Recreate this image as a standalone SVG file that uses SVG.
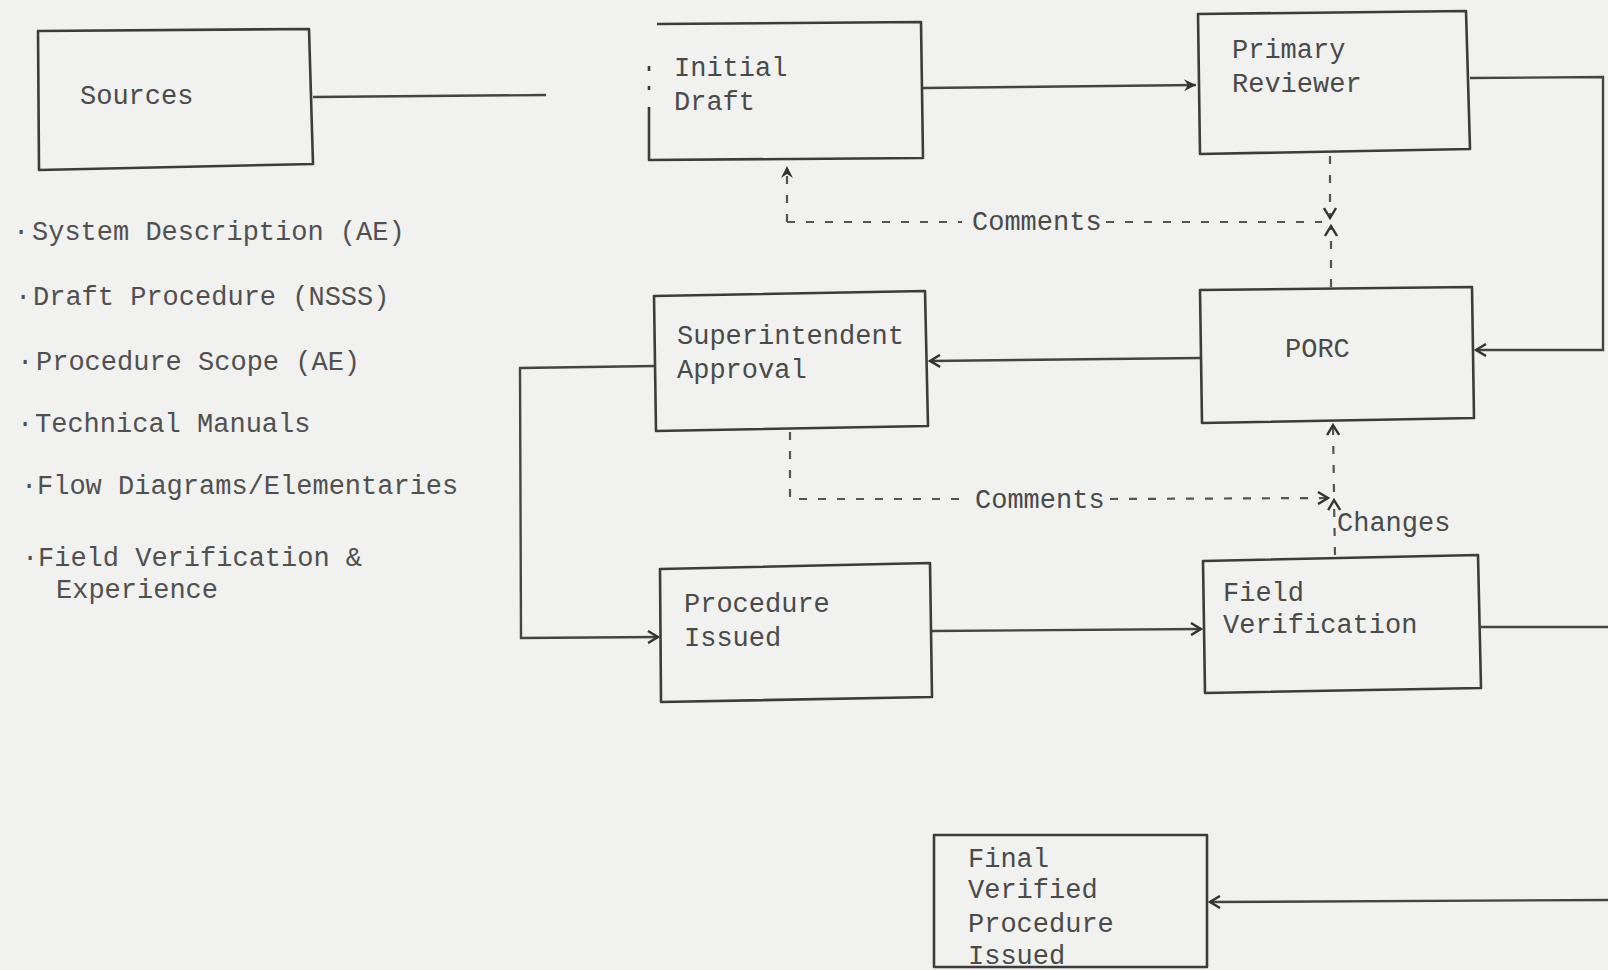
<svg xmlns="http://www.w3.org/2000/svg" width="1608" height="970" viewBox="0 0 1608 970">
<defs>
<style>
.bx{fill:none;stroke:#3c3c3c;stroke-width:2.6;stroke-linejoin:round}
.ln{fill:none;stroke:#444;stroke-width:2.4}
.ds{fill:none;stroke:#555;stroke-width:2.2;stroke-dasharray:8 11}
.t{font-family:"Liberation Mono","Courier New",monospace;font-size:27px;fill:#505050}
.tb{font-family:"Liberation Mono","Courier New",monospace;font-size:27px;fill:#4a4a4a}
</style>
<marker id="ar" markerWidth="16" markerHeight="14" refX="13" refY="7" orient="auto" markerUnits="userSpaceOnUse">
<path d="M3,1 L13,7 L3,13" fill="none" stroke="#333" stroke-width="2.4"/>
</marker>
<marker id="af" markerWidth="16" markerHeight="14" refX="14" refY="7" orient="auto" markerUnits="userSpaceOnUse">
<path d="M2,1 L14,7 L2,13 L6,7 Z" fill="#333"/>
</marker>
</defs>
<rect width="1608" height="970" fill="#f1f1ef"/>

<g id="connectors">
<path class="ln" d="M313,97 L546,95"/>
<path class="ln" d="M923,88 L1196,85" marker-end="url(#af)"/>
<path class="ln" d="M1470,78 L1603,77 L1603,350 L1476,350" marker-end="url(#ar)"/>
<path class="ln" d="M1200,358 L930,361" marker-end="url(#ar)"/>
<path class="ln" d="M655,366 L520,368 L521,638 L658,637" marker-end="url(#ar)"/>
<path class="ln" d="M932,631 L1201,629" marker-end="url(#ar)"/>
<path class="ln" d="M1481,627 L1608,627"/>
<path class="ln" d="M1608,900 L1210,902" marker-end="url(#ar)"/>
<!-- comments 1 -->
<path class="ds" d="M787,222 L787,166" marker-end="url(#af)"/>
<path class="ds" d="M787,222 L962,222"/>
<path class="ds" d="M1106,222 L1322,222"/>
<path class="ds" d="M1330,156 L1330,218" marker-end="url(#ar)"/>
<path class="ds" d="M1331,287 L1331,226" marker-end="url(#ar)"/>
<!-- comments 2 -->
<path class="ds" d="M790,432 L790,499 L965,499"/>
<path class="ds" d="M1110,499 L1328,498" marker-end="url(#ar)"/>
<path class="ds" d="M1335,555 L1334,500" marker-end="url(#ar)"/>
<path class="ds" d="M1334,492 L1333,425" marker-end="url(#ar)"/>
</g>

<g id="sources">
<path class="bx" d="M38,31 L309,29 L313,164 L39,170 Z"/>
<text class="tb" x="80" y="104">Sources</text>
</g>

<g id="source-list">
<text class="t" x="13" y="240">·<tspan x="32">System Description (AE)</tspan></text>
<text class="t" x="15" y="305">·<tspan x="33">Draft Procedure (NSSS)</tspan></text>
<text class="t" x="17" y="370">·<tspan x="36">Procedure Scope (AE)</tspan></text>
<text class="t" x="17" y="432">·<tspan x="35">Technical Manuals</tspan></text>
<text class="t" x="21" y="494">·<tspan x="37">Flow Diagrams/Elementaries</tspan></text>
<text class="t" x="22" y="566">·<tspan x="38">Field Verification &amp;</tspan></text>
<text class="t" x="56" y="598">Experience</text>
</g>

<g id="initial-draft">
<path class="bx" d="M657,24 L921,22 L923,158 L649,160 L649,107"/>
<path class="bx" d="M649,66 L649,71 M649,86 L649,90" stroke-width="1.6"/>
<text class="tb" x="674" y="76">Initial</text>
<text class="tb" x="674" y="110">Draft</text>
</g>

<g id="primary-reviewer">
<path class="bx" d="M1198,14 L1466,11 L1470,149 L1200,154 Z"/>
<text class="tb" x="1232" y="58">Primary</text>
<text class="tb" x="1232" y="92">Reviewer</text>
</g>

<g id="porc">
<path class="bx" d="M1200,290 L1472,287 L1474,418 L1202,423 Z"/>
<text class="tb" x="1285" y="357">PORC</text>
</g>

<g id="superintendent-approval">
<path class="bx" d="M654,296 L925,291 L928,426 L656,431 Z"/>
<text class="tb" x="677" y="344">Superintendent</text>
<text class="tb" x="677" y="378">Approval</text>
</g>

<g id="procedure-issued">
<path class="bx" d="M660,569 L930,563 L932,697 L661,702 Z"/>
<text class="tb" x="684" y="612">Procedure</text>
<text class="tb" x="684" y="646">Issued</text>
</g>

<g id="field-verification">
<path class="bx" d="M1203,561 L1478,555 L1481,688 L1205,693 Z"/>
<text class="tb" x="1223" y="601">Field</text>
<text class="tb" x="1223" y="633">Verification</text>
</g>

<g id="final-verified">
<path class="bx" d="M934,835 L1207,835 L1207,967 L934,967 Z"/>
<text class="tb" x="968" y="867">Final</text>
<text class="tb" x="968" y="898">Verified</text>
<text class="tb" x="968" y="932">Procedure</text>
<text class="tb" x="968" y="964">Issued</text>
</g>

<g id="labels">
<text class="tb" x="972" y="230">Comments</text>
<text class="tb" x="975" y="508">Comments</text>
<text class="tb" x="1337" y="531">Changes</text>
</g>
</svg>
